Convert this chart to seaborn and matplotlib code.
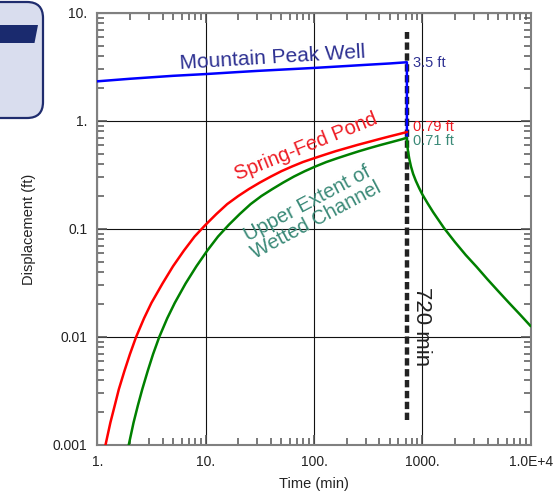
import numpy as np
import pandas as pd
import matplotlib
matplotlib.use("Agg")
import matplotlib.pyplot as plt
import seaborn as sns
from matplotlib.patches import FancyBboxPatch, Polygon
from matplotlib.transforms import IdentityTransform
from matplotlib.ticker import LogLocator, NullFormatter

# ---------------- data ----------------
well_t = [1, 2, 3, 5, 10, 20, 30, 50, 100, 200, 300, 500, 720, 720]
well_s = [2.33, 2.46, 2.53, 2.62, 2.72, 2.84, 2.91, 2.99, 3.1, 3.23, 3.31, 3.41, 3.5, 0.68]

pond_t = [1.19, 1.32, 1.45, 1.58, 1.78, 2.0, 2.28, 2.7, 3.16, 4.0, 5.0, 6.3, 7.9, 10,
          12.6, 15.8, 20, 25, 31.6, 40, 50, 63, 79, 100, 126, 158, 200, 251, 316, 398,
          501, 631, 720]
pond_s = [0.001, 0.00161, 0.00233, 0.00328, 0.00485, 0.00693, 0.01, 0.0149, 0.0207,
          0.0313, 0.0452, 0.0631, 0.0851, 0.1096, 0.138, 0.170, 0.202, 0.234, 0.269,
          0.306, 0.343, 0.380, 0.417, 0.452, 0.488, 0.525, 0.562, 0.600, 0.638, 0.679,
          0.721, 0.764, 0.79]

chan_t = [1.95, 2.16, 2.37, 2.6, 2.92, 3.27, 3.73, 4.42, 5.19, 6.53, 8.22, 10.35, 13.0,
          16.4, 20.7, 26.0, 32.7, 41.2, 51.9, 65.3, 82.2, 103.5, 130, 164, 207, 260, 327,
          412, 519, 653, 720,
          728, 741, 759, 785, 822, 871, 933, 1000, 1122, 1259, 1585, 1995, 2512, 3162,
          3981, 5012, 6310, 7943, 10000]
chan_s = [0.001, 0.00161, 0.00233, 0.00328, 0.00485, 0.00693, 0.01, 0.0149, 0.0207,
          0.0313, 0.0452, 0.0631, 0.0851, 0.1096, 0.138, 0.170, 0.202, 0.234, 0.269,
          0.306, 0.343, 0.380, 0.417, 0.452, 0.488, 0.525, 0.562, 0.600, 0.638, 0.679,
          0.70,
          0.582, 0.507, 0.442, 0.380, 0.324, 0.279, 0.240, 0.209, 0.172, 0.143, 0.102,
          0.0759, 0.0575, 0.0447, 0.0343, 0.0266, 0.0207, 0.0162, 0.0126]

stop_time = 720
stop_line_y = [0.0017, 6.6]

x_ticks = [1, 10, 100, 1000, 10000]
x_tick_labels = ["1.", "10.", "100.", "1000.", "1.0E+4"]
y_ticks = [0.001, 0.01, 0.1, 1, 10]
y_tick_labels = ["0.001", "0.01", "0.1", "1.", "10."]

end_labels = ["3.5 ft", "0.79 ft", "0.71 ft"]
end_label_y = [3.42, 0.875, 0.653]

# ---------------- style ----------------
sns.set_style("ticks")
plt.rcParams["font.family"] = ["Liberation Sans", "DejaVu Sans"]

W, H, DPI = 554, 499, 100
fig = plt.figure(figsize=(W / DPI, H / DPI), dpi=DPI)
ax = fig.add_axes([97.3 / W, (H - 445) / H, (530.7 - 97.3) / W, (445 - 13) / H])
ax.set_xscale("log")
ax.set_yscale("log")

df_well = pd.DataFrame({"t": well_t, "s": well_s})
df_pond = pd.DataFrame({"t": pond_t, "s": pond_s})
df_chan = pd.DataFrame({"t": chan_t, "s": chan_s})

ax.vlines(stop_time, stop_line_y[0], stop_line_y[1], colors="#222222", linewidth=3.2,
          linestyles=(0, (1.65, 0.8)), zorder=3)

sns.lineplot(data=df_well, x="t", y="s", sort=False, estimator=None, ax=ax,
             color="#0000ff", linewidth=1.8, zorder=4)
sns.lineplot(data=df_pond, x="t", y="s", sort=False, estimator=None, ax=ax,
             color="#ff0000", linewidth=1.8, zorder=5)
sns.lineplot(data=df_chan, x="t", y="s", sort=False, estimator=None, ax=ax,
             color="#008000", linewidth=1.8, zorder=6)

ax.set_xlim(1, 10000)
ax.set_ylim(0.001, 10)

# grid and ticks
ax.grid(True, which="major", color="#111111", linewidth=0.8)
ax.grid(False, which="minor")
ax.set_axisbelow(True)
ax.set_xticks(x_ticks)
ax.set_xticklabels(x_tick_labels)
ax.set_yticks(y_ticks)
ax.set_yticklabels(y_tick_labels)
ax.xaxis.set_minor_locator(LogLocator(base=10, subs=np.arange(2, 10), numticks=100))
ax.yaxis.set_minor_locator(LogLocator(base=10, subs=np.arange(2, 10), numticks=100))
ax.xaxis.set_minor_formatter(NullFormatter())
ax.yaxis.set_minor_formatter(NullFormatter())
ax.tick_params(which="both", direction="in", top=True, right=True, bottom=True,
               left=True, colors="#555555", labelcolor="#222222", labelsize=10)
ax.tick_params(which="major", length=7, width=1.2, pad=7)
ax.tick_params(which="minor", length=5, width=1.1)
for sp in ax.spines.values():
    sp.set_color("#808080")
    sp.set_linewidth(1.5)

ax.set_xlabel("Time (min)", fontsize=10.5, color="#222222", labelpad=6)
ax.set_ylabel("Displacement (ft)", fontsize=10.5, color="#222222", labelpad=12)

# curve labels
ax.text(41, 3.83, "Mountain Peak Well", color="#2e3192", fontsize=15,
        rotation=3.5, ha="center", va="center", rotation_mode="anchor", zorder=7)
ax.text(85, 0.574, "Spring-Fed Pond", color="#ee1c24", fontsize=14.5,
        rotation=22, ha="center", va="center", rotation_mode="anchor", zorder=7)
ax.text(96, 0.144, "Upper Extent of\nWetted Channel", color="#3b8a78", fontsize=14.5,
        rotation=28, ha="center", va="center", rotation_mode="anchor",
        multialignment="center", linespacing=1.0, zorder=7)
ax.text(977, 0.0124, "720 min", color="#222222", fontsize=16, rotation=-90,
        ha="center", va="center", rotation_mode="anchor", zorder=7)

end_colors = ["#2e3192", "#ee1c24", "#3b8a78"]
for lab, yv, c in zip(end_labels, end_label_y, end_colors):
    ax.text(812, yv, lab, color=c, fontsize=10.5, ha="left", va="center", zorder=7)

# decorative cut-off badge at the top-left corner
badge = FancyBboxPatch((-30, H - 118), 73, 116, boxstyle="round,pad=0,rounding_size=16",
                       transform=IdentityTransform(), facecolor="#d9ddee",
                       edgecolor="#1f2c6e", linewidth=1.6, zorder=10)
fig.patches.append(badge)
glyph = Polygon([(0, H - 25), (38, H - 25), (34.5, H - 43), (0, H - 43)], closed=True,
                transform=IdentityTransform(), facecolor="#1a2a6e", edgecolor="none",
                zorder=11)
fig.patches.append(glyph)

fig.savefig("out.png", dpi=DPI)
